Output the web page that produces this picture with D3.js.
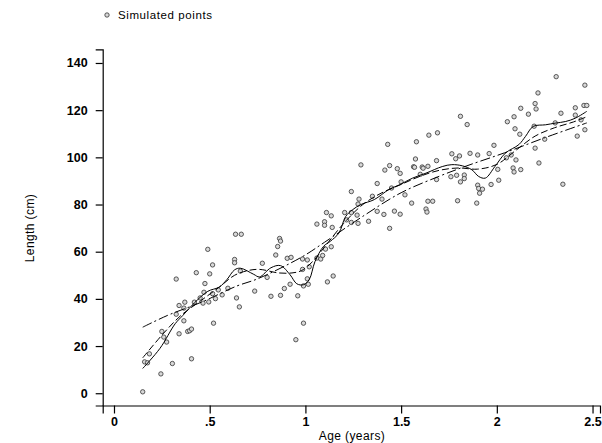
<!DOCTYPE html>
<html>
<head>
<meta charset="utf-8">
<script src="https://cdn.jsdelivr.net/npm/d3@7"></script>
<style>
  body { margin: 0; background: #fff; }
  text { font-family: "Liberation Sans", Arial, sans-serif; fill: #000; }
</style>
</head>
<body>
<svg width="602" height="443"></svg>
<script>
// simulated points: [age (years), length (cm)]
var points = [
  [0.15,0.6],[0.16,13.3],[0.175,12.9],[0.185,16.7],[0.245,8.2],[0.25,26.2],[0.26,23.8],[0.275,21.7],
  [0.305,12.6],[0.325,33.5],[0.325,48.4],[0.34,37.2],[0.34,25.2],[0.365,30.7],[0.365,36.1],[0.37,38.6],
  [0.385,26.2],[0.395,26.5],[0.405,27.2],[0.405,14.6],[0.42,38.6],[0.43,51.1],[0.45,40.4],[0.465,38.2],
  [0.47,42.8],[0.475,46.5],[0.49,61],[0.495,38.7],[0.5,50.6],[0.515,54.4],[0.515,42.2],[0.52,29.7],
  [0.53,40.1],[0.545,43.8],[0.565,41.7],[0.595,44.5],[0.63,56.7],[0.63,55.3],[0.635,67.4],[0.64,40.4],
  [0.655,36.6],[0.66,51.8],[0.665,67.4],[0.735,43.3],[0.775,55.1],[0.8,49.1],[0.82,41.1],[0.845,58.6],
  [0.855,62.2],[0.865,65.6],[0.87,41.5],[0.87,64.5],[0.89,44.4],[0.905,57.2],[0.92,46.2],[0.925,57.6],
  [0.95,22.7],[0.96,41.3],[0.985,52.5],[0.985,56.9],[0.99,29.7],[0.99,45.5],[1.01,56.5],[1.01,48.5],
  [1.015,46.2],[1.02,53.6],[1.06,57.3],[1.06,71.7],[1.08,56.9],[1.09,58.4],[1.1,72.7],[1.1,71.2],
  [1.105,61.1],[1.11,76.6],[1.115,47.2],[1.135,62.1],[1.135,75.2],[1.14,70.3],[1.145,49.7],[1.205,76.6],
  [1.215,73.5],[1.24,76.6],[1.24,72.4],[1.24,85.5],[1.27,75.5],[1.275,80.2],[1.275,72],[1.28,82.3],
  [1.29,96.8],[1.33,72.9],[1.35,83.5],[1.375,88.9],[1.375,77.1],[1.4,82.3],[1.41,75.8],[1.415,94.6],
  [1.43,105.5],[1.44,96.5],[1.44,69.9],[1.45,87],[1.465,77.2],[1.48,95.2],[1.495,93.2],[1.495,75.9],
  [1.5,89.6],[1.52,84.1],[1.555,80.6],[1.565,96],[1.57,95.8],[1.575,99.3],[1.58,106.6],[1.6,92.8],
  [1.61,95.9],[1.615,95.4],[1.63,78.1],[1.635,76.8],[1.64,96.2],[1.64,81.4],[1.645,109.4],[1.665,81.4],
  [1.685,90.6],[1.685,98.6],[1.69,110.4],[1.76,91.8],[1.765,101.5],[1.785,99.4],[1.79,92.4],[1.795,81.6],
  [1.805,100.6],[1.81,117.4],[1.81,89.6],[1.83,92.5],[1.83,91],[1.845,113.9],[1.86,101.7],[1.895,80.6],
  [1.9,101],[1.9,88.2],[1.905,86.8],[1.91,84.8],[1.925,86.5],[1.96,101.6],[1.97,88.5],[1.985,105.1],
  [2.005,94.9],[2.01,90.3],[2.05,99.8],[2.055,115.1],[2.075,101],[2.085,95.5],[2.09,117.2],[2.09,93.8],
  [2.095,112.1],[2.1,98.9],[2.12,109.8],[2.125,94.8],[2.125,120.8],[2.165,118.3],[2.195,113.2],[2.2,122.8],
  [2.2,103.9],[2.205,120.5],[2.215,127.3],[2.22,97.6],[2.25,107.7],[2.305,114.6],[2.31,134.2],[2.335,118.7],
  [2.345,88.6],[2.41,121],[2.41,117.9],[2.42,109],[2.44,115.9],[2.455,122],[2.46,111.7],[2.46,130.6],
  [2.47,122]
];

// fitted curves
var fitSolid = [
  [0.15,10.5],[0.24,19],[0.32,29.5],[0.36,33],[0.42,38.3],[0.49,43.2],[0.55,45],[0.59,48.2],[0.63,52.3],
  [0.66,53],[0.73,50.4],[0.76,49.3],[0.82,53.2],[0.87,54.1],[0.92,50.2],[0.955,46.4],[0.99,46],[1.02,48.2],
  [1.05,55.8],[1.095,62.3],[1.13,64.4],[1.175,67.9],[1.21,74.9],[1.245,77.7],[1.29,80],[1.36,82.1],
  [1.435,86.3],[1.49,88.3],[1.56,91.2],[1.63,93.3],[1.715,96.1],[1.765,96.9],[1.82,96.4],[1.87,94.7],
  [1.905,91.9],[1.94,91.2],[1.99,96.1],[2.045,101.8],[2.115,105.4],[2.15,108.9],[2.19,113.1],[2.255,113.8],
  [2.305,114.5],[2.36,115.2],[2.41,116.6],[2.47,119.5]
];
var fitDash = [
  [0.15,15],[0.26,25.5],[0.35,33],[0.45,39],[0.55,45],[0.63,50],[0.7,52],[0.76,52.5],[0.86,51],[0.93,51],
  [0.98,52],[1.04,56],[1.1,62],[1.2,72],[1.3,80],[1.4,85],[1.5,88.5],[1.6,92],[1.7,94.5],[1.8,95.5],
  [1.9,95],[2.0,97],[2.1,103],[2.2,109],[2.3,112.5],[2.4,115],[2.47,117.2]
];
var fitDashDot = [
  [0.15,28],[0.28,33],[0.46,38.7],[0.64,45.4],[0.75,48.5],[0.98,57.7],[1.1,64],[1.3,75],[1.5,85],
  [1.7,92],[1.84,96.3],[2.04,101.9],[2.25,108.3],[2.47,114.6]
];

var xTicks = [0, 0.5, 1, 1.5, 2, 2.5];
var xTickLabels = ["0", ".5", "1", "1.5", "2", "2.5"];
var yTicks = [0, 20, 40, 60, 80, 100, 120, 140];

var svg = d3.select("svg");

var x = d3.scaleLinear().domain([-0.059, 2.539]).range([102.7, 600]);
var y = d3.scaleLinear().domain([-5.2, 145.8]).range([405.5, 49.3]);

// axes
var xAxis = svg.append("g")
  .attr("transform", "translate(0," + y(-5.2) + ")")
  .call(d3.axisBottom(x).tickValues(xTicks).tickSizeOuter(0).tickSize(8).tickPadding(4)
    .tickFormat(function (d, i) { return xTickLabels[i]; }));

var yAxis = svg.append("g")
  .attr("transform", "translate(" + x(-0.059) + ",0)")
  .call(d3.axisLeft(y).tickValues(yTicks).tickSizeOuter(0).tickSize(7).tickPadding(8));

[xAxis, yAxis].forEach(function (a) {
  a.select(".domain").attr("stroke", "#000").attr("stroke-width", 1.2);
  a.selectAll(".tick line").attr("stroke", "#000").attr("stroke-width", 1.2);
  a.selectAll(".tick text")
    .attr("font-family", "Liberation Sans, Arial, sans-serif")
    .attr("font-size", 12.5).attr("font-weight", "bold").attr("fill", "#000");
});

svg.append("text")
  .attr("x", 352).attr("y", 440)
  .attr("text-anchor", "middle")
  .attr("font-size", 12).attr("letter-spacing", 0.4)
  .text("Age (years)");

svg.append("text")
  .attr("transform", "translate(34,228) rotate(-90)")
  .attr("text-anchor", "middle")
  .attr("font-size", 12).attr("letter-spacing", 0.4)
  .text("Length (cm)");

// points
svg.append("g")
  .selectAll("circle")
  .data(points)
  .enter()
  .append("circle")
  .attr("cx", function (d) { return x(d[0]); })
  .attr("cy", function (d) { return y(d[1]); })
  .attr("r", 2.2)
  .attr("fill", "#d8d8d8")
  .attr("stroke", "#333")
  .attr("stroke-width", 0.8);

// fitted lines
var line = d3.line()
  .x(function (d) { return x(d[0]); })
  .y(function (d) { return y(d[1]); })
  .curve(d3.curveCatmullRom);

svg.append("path").datum(fitDashDot)
  .attr("d", line).attr("fill", "none").attr("stroke", "#000")
  .attr("stroke-width", 1).attr("stroke-dasharray", "10,3,2,3");
svg.append("path").datum(fitDash)
  .attr("d", line).attr("fill", "none").attr("stroke", "#000")
  .attr("stroke-width", 1).attr("stroke-dasharray", "7,3");
svg.append("path").datum(fitSolid)
  .attr("d", line).attr("fill", "none").attr("stroke", "#000")
  .attr("stroke-width", 1);

// legend
svg.append("circle")
  .attr("cx", 107).attr("cy", 15).attr("r", 2.2)
  .attr("fill", "#d8d8d8").attr("stroke", "#333").attr("stroke-width", 0.8);
svg.append("text")
  .attr("x", 118).attr("y", 19)
  .attr("font-size", 11.5).attr("letter-spacing", 0.6)
  .text("Simulated points");
</script>
</body>
</html>
